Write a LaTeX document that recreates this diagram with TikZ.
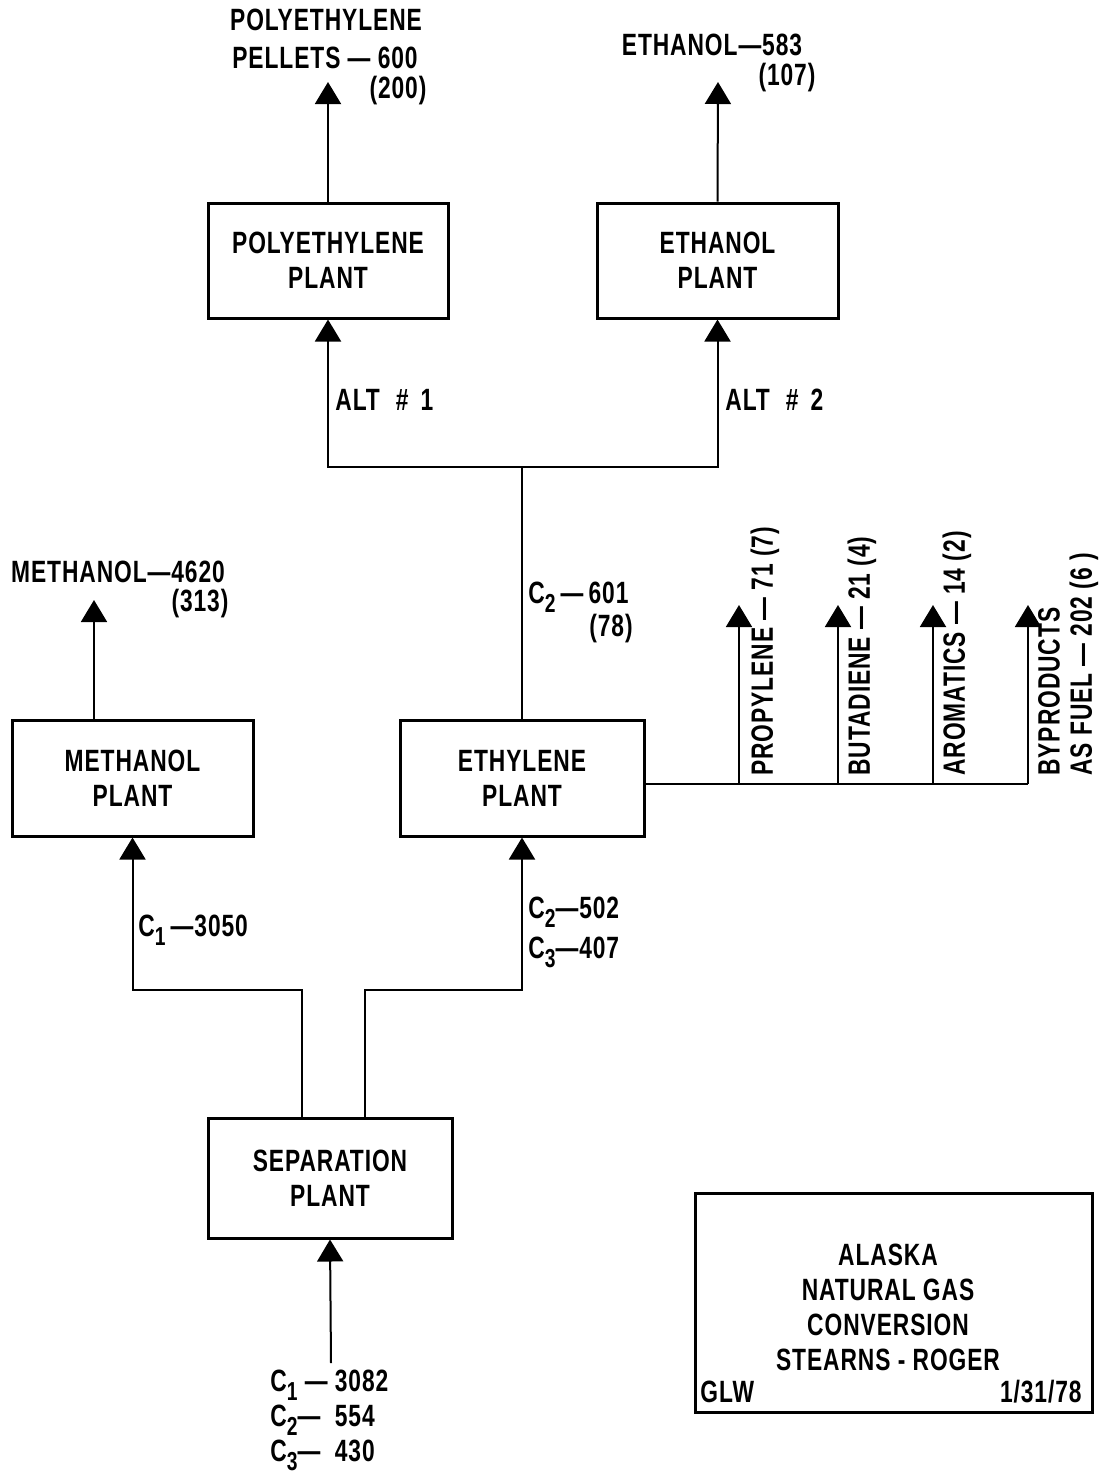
\documentclass[tikz,border=0pt]{standalone}
\usepackage{fontspec}
\setmainfont{Liberation Sans}[FakeStretch=0.74,LetterSpace=3]
\usetikzlibrary{arrows.meta}
\newcommand\lbl{\fontsize{15.4}{17.5}\selectfont\bfseries}
\newcommand\sbs[1]{\raisebox{-0.55ex}{\fontsize{13}{13}\selectfont #1}}
\begin{document}
\begin{tikzpicture}[x=0.5pt,y=-0.5pt,
  box/.style={draw,line width=1.5pt,inner sep=0pt,align=center,font=\lbl},
  ln/.style={line width=1pt},
  arr/.style={line width=1pt,-{Triangle[width=13pt,length=11pt]}},
  lab/.style={inner sep=0pt,font=\lbl},
  vlab/.style={inner sep=0pt,font=\lbl,rotate=90,anchor=west}]
\useasboundingbox (0,0) rectangle (1101,1479);
% boxes
\node[box,minimum width=120pt,minimum height=57.5pt] (poly) at (328,260.5) {POLYETHYLENE\\PLANT};
\node[box,minimum width=120.5pt,minimum height=57.5pt] (ethn) at (717.5,260.5) {ETHANOL\\PLANT};
\node[box,minimum width=120.5pt,minimum height=58pt] (meth) at (132.5,778) {METHANOL\\PLANT};
\node[box,minimum width=122pt,minimum height=58pt] (ethy) at (522,778) {ETHYLENE\\PLANT};
\node[box,minimum width=122pt,minimum height=60pt] (sep) at (330,1178) {SEPARATION\\PLANT};
\node[draw,line width=1.5pt,inner sep=0pt,minimum width=198.5pt,minimum height=109.5pt] (title) at (893.5,1302.5) {};
% free ends
\coordinate (po) at (328,82);
\coordinate (eo) at (718,82);
\coordinate (mo) at (94,600);
\coordinate (j1) at (522,467);
\coordinate (jl) at (302,990);
\coordinate (jr) at (365,990);
\coordinate (in) at (331,1363);
\coordinate (b1) at (739,784); \coordinate (t1) at (739,605);
\coordinate (b2) at (838,784); \coordinate (t2) at (838,605);
\coordinate (b3) at (933,784); \coordinate (t3) at (933,605);
\coordinate (b4) at (1028,784); \coordinate (t4) at (1028,605);
% connectors
\draw[arr] (poly.north) -- (po);
\draw[arr] (ethn.north) -- (eo);
\draw[arr] (meth.north -| mo) -- (mo);
\draw[ln] (ethy.north) -- (j1);
\draw[arr] (j1) -| (poly.south);
\draw[arr] (j1) -| (ethn.south);
\draw[ln] (ethy.east |- b4) -- (b4);
\draw[arr] (b1) -- (t1);
\draw[arr] (b2) -- (t2);
\draw[arr] (b3) -- (t3);
\draw[arr] (b4) -- (t4);
\draw[arr] (sep.north -| jl) -- (jl) -| (meth.south);
\draw[arr] (sep.north -| jr) -- (jr) -| (ethy.south);
\draw[arr] (in) -- (sep.south);
% labels
\node[lab] (l1) at (326,20) {POLYETHYLENE};
\node[lab] (l2) at (325,58) {PELLETS — 600};
\node[lab] (l3) at (398,91) {(200)};
\node[lab] (l4) at (712,45) {ETHANOL—583};
\node[lab] (l5) at (787,78) {(107)};
\node[lab] (l6) at (118,572) {METHANOL—4620};
\node[lab] (l7) at (200,604) {(313)};
\node[lab,anchor=west] (l8) at (335,400) {ALT\hspace{8pt}\#\hspace{6pt}1};
\node[lab,anchor=west] (l9) at (725,400) {ALT\hspace{8pt}\#\hspace{6pt}2};
\node[lab,anchor=west] (l10) at (528,597) {C\sbs{2}\,—\,601};
\node[lab] (l11) at (611,629) {(78)};
\node[lab,anchor=west] (l12) at (138,930) {C\sbs{1}\,—3050};
\node[lab,anchor=west] (l13) at (528,912) {C\sbs{2}—502};
\node[lab,anchor=west] (l14) at (528,952) {C\sbs{3}—407};
\node[vlab] (v1) at (765,776) {PROPYLENE — 71 (7)};
\node[vlab] (v2) at (862,776) {BUTADIENE — 21 (4)};
\node[vlab] (v3) at (957,776) {AROMATICS — 14 (2)};
\node[vlab] (v4) at (1049,776) {BYPRODUCTS};
\node[vlab] (v5) at (1084,776) {AS FUEL — 202 (6 )};
\node[lab,anchor=west] (f1) at (270,1385) {C\sbs{1} — 3082};
\node[lab,anchor=west] (f2) at (270,1420) {C\sbs{2}—\ \ 554};
\node[lab,anchor=west] (f3) at (270,1455) {C\sbs{3}—\ \ 430};
\node[lab] (tt1) at (888,1255) {ALASKA};
\node[lab] (tt2) at (888,1290) {NATURAL GAS};
\node[lab] (tt3) at (888,1325) {CONVERSION};
\node[lab] (tt4) at (888,1360) {STEARNS - ROGER};
\node[lab,anchor=west] (tt5) at (700,1392) {GLW};
\node[lab,anchor=east] (tt6) at (1082,1392) {1/31/78};
\end{tikzpicture}
\end{document}
